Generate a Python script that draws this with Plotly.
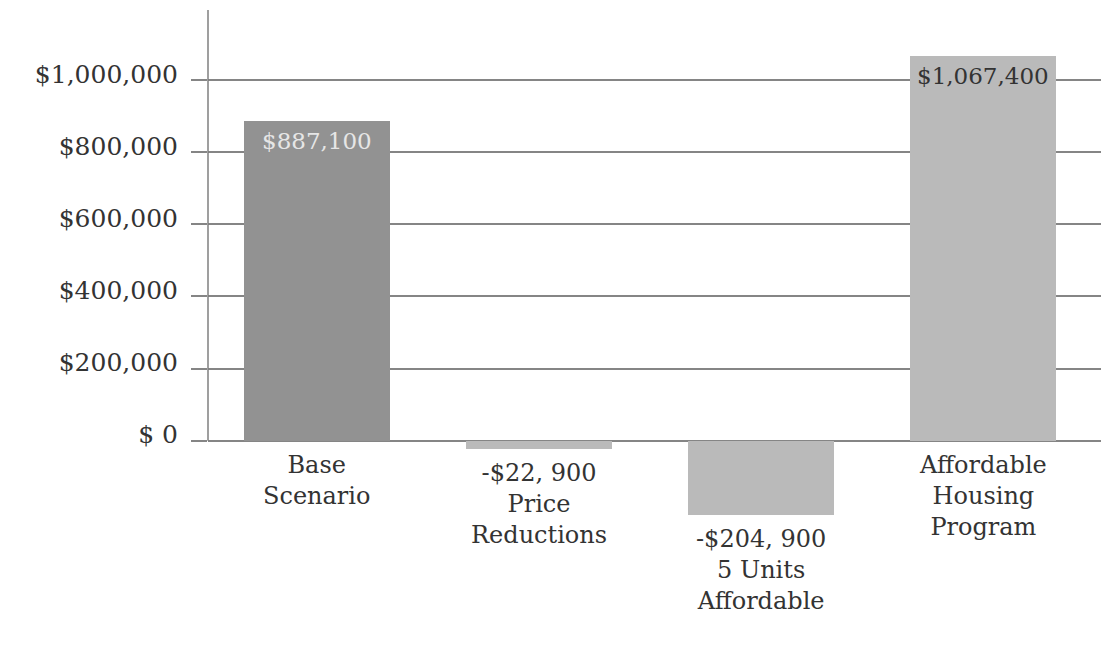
import plotly.graph_objects as go

categories = ["Base<br>Scenario", "Price<br>Reductions", "5 Units<br>Affordable", "Affordable<br>Housing<br>Program"]
values = [887100, -22900, -204900, 1067400]
bar_colors = ["#929292", "#bababa", "#bababa", "#bababa"]
value_text_colors = ["#e6e6e6", "#333333", "#333333", "#333333"]
tick_vals = [0, 200000, 400000, 600000, 800000, 1000000]
tick_text = ["$ 0", "$200,000", "$400,000", "$600,000", "$800,000", "$1,000,000"]

FONT = "DejaVu Serif"
Y_MIN, Y_MAX = -500000, 1194000

x = list(range(len(categories)))

fig = go.Figure()
fig.add_trace(go.Bar(
    x=x, y=values, width=0.66,
    marker=dict(color=bar_colors, line=dict(width=0)),
    hoverinfo="skip",
))

annotations = []
for i, (cat, v) in enumerate(zip(categories, values)):
    if v >= 0:
        annotations.append(dict(
            x=i, y=v, xref="x", yref="y", yanchor="top", yshift=-5,
            text=f"${v:,}", showarrow=False,
            font=dict(family=FONT, size=23, color=value_text_colors[i]),
        ))
        label = cat
        ybase = 0
    else:
        a = abs(v)
        label = f"-${a // 1000}, {a % 1000:03d}<br>" + cat
        ybase = v
    annotations.append(dict(
        x=i, y=ybase, xref="x", yref="y", yanchor="top", yshift=-8,
        text=label, showarrow=False, align="center",
        font=dict(family=FONT, size=24, color="#333333"),
    ))

fig.update_layout(
    width=1101, height=647,
    margin=dict(l=208, r=0, t=10, b=26),
    paper_bgcolor="white", plot_bgcolor="white",
    showlegend=False,
    bargap=0,
    annotations=annotations,
    shapes=[dict(type="line", xref="paper", yref="y", x0=0, x1=0, y0=0, y1=Y_MAX,
                 line=dict(color="#7f7f7f", width=1.5), layer="above")],
    xaxis=dict(range=[-0.491, 3.532], showticklabels=False, showgrid=False,
               zeroline=False, showline=False, ticks=""),
    yaxis=dict(range=[Y_MIN, Y_MAX], tickvals=tick_vals, ticktext=tick_text,
               showgrid=True, gridcolor="#858585", gridwidth=1.5,
               zeroline=False, showline=False,
               ticks="outside", ticklen=16, tickcolor="#858585", tickwidth=1.5,
               ticklabelstandoff=8, ticklabelshift=-6,
               tickfont=dict(family=FONT, size=25, color="#333333")),
)

fig.write_html("out.html")
